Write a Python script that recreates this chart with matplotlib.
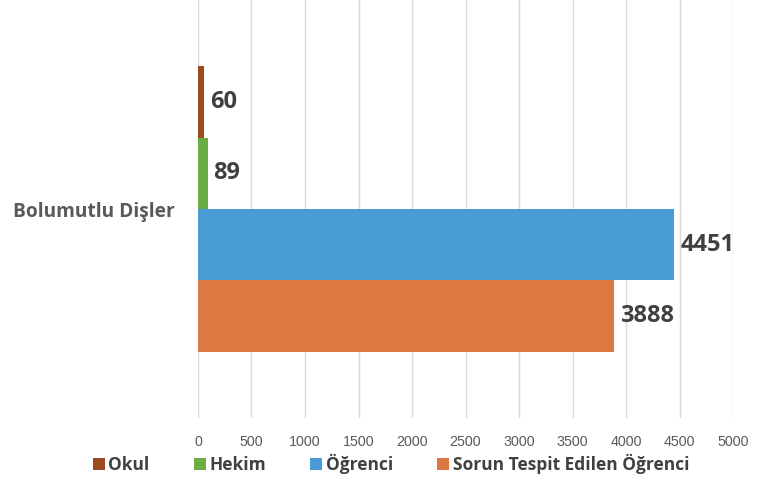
import matplotlib
matplotlib.use("Agg")
import matplotlib.pyplot as plt
from matplotlib.patches import Patch

categories = ["Bolumutlu Dişler"]
series_names = ["Okul", "Hekim", "Öğrenci", "Sorun Tespit Edilen Öğrenci"]
series_values = [[60], [89], [4451], [3888]]
series_colors = ["#9c4a1e", "#6aad45", "#489cd3", "#dc7841"]
x_ticks = [0, 500, 1000, 1500, 2000, 2500, 3000, 3500, 4000, 4500, 5000]

FONT = "Open Sans"

fig = plt.figure(figsize=(7.6, 4.79), dpi=100)
ax = fig.add_axes([198/760, 1 - 418/479, (733 - 198)/760, 418/479])

h = 0.171
n = len(series_names)
for i, (name, vals, col) in enumerate(zip(series_names, series_values, series_colors)):
    offset = (n - 1) / 2 * h - i * h
    ys = [c + offset for c in range(len(categories))]
    bars = ax.barh(ys, vals, height=h, color=col, label=name, zorder=3)
    for b, v in zip(bars, vals):
        ax.text(b.get_width() + 55, b.get_y() + b.get_height() / 2, str(v),
                ha="left", va="center", fontsize=17, fontweight="bold",
                color="#404040", family=FONT)

ax.set_xlim(0, 5000)
ax.set_ylim(-0.5, 0.5)
ax.set_xticks(x_ticks)
ax.set_xticklabels([str(t) for t in x_ticks], fontsize=10.3, color="#595959",
                   family="Liberation Sans")
ax.set_yticks(range(len(categories)))
ax.set_yticklabels(categories, fontsize=13.8, fontweight="bold", color="#595959",
                   family=FONT)
ax.tick_params(axis="both", length=0)
ax.tick_params(axis="y", pad=17)
ax.tick_params(axis="x", pad=12)
ax.grid(axis="x", color="#d9d9d9", linewidth=1, zorder=0)
for s in ax.spines.values():
    s.set_visible(False)

handles = [Patch(facecolor=c, edgecolor="none") for c in series_colors]
leg = fig.legend(handles, series_names, loc="center", ncol=4,
                 bbox_to_anchor=(391/760, 1 - 464/479), frameon=False,
                 prop={"family": FONT, "weight": "bold", "size": 12.5},
                 handlelength=0.7, handleheight=0.7, handletextpad=0.2,
                 columnspacing=2.55, borderaxespad=0, borderpad=0)
for t in leg.get_texts():
    t.set_color("#404040")

fig.savefig("out.png", dpi=100)
